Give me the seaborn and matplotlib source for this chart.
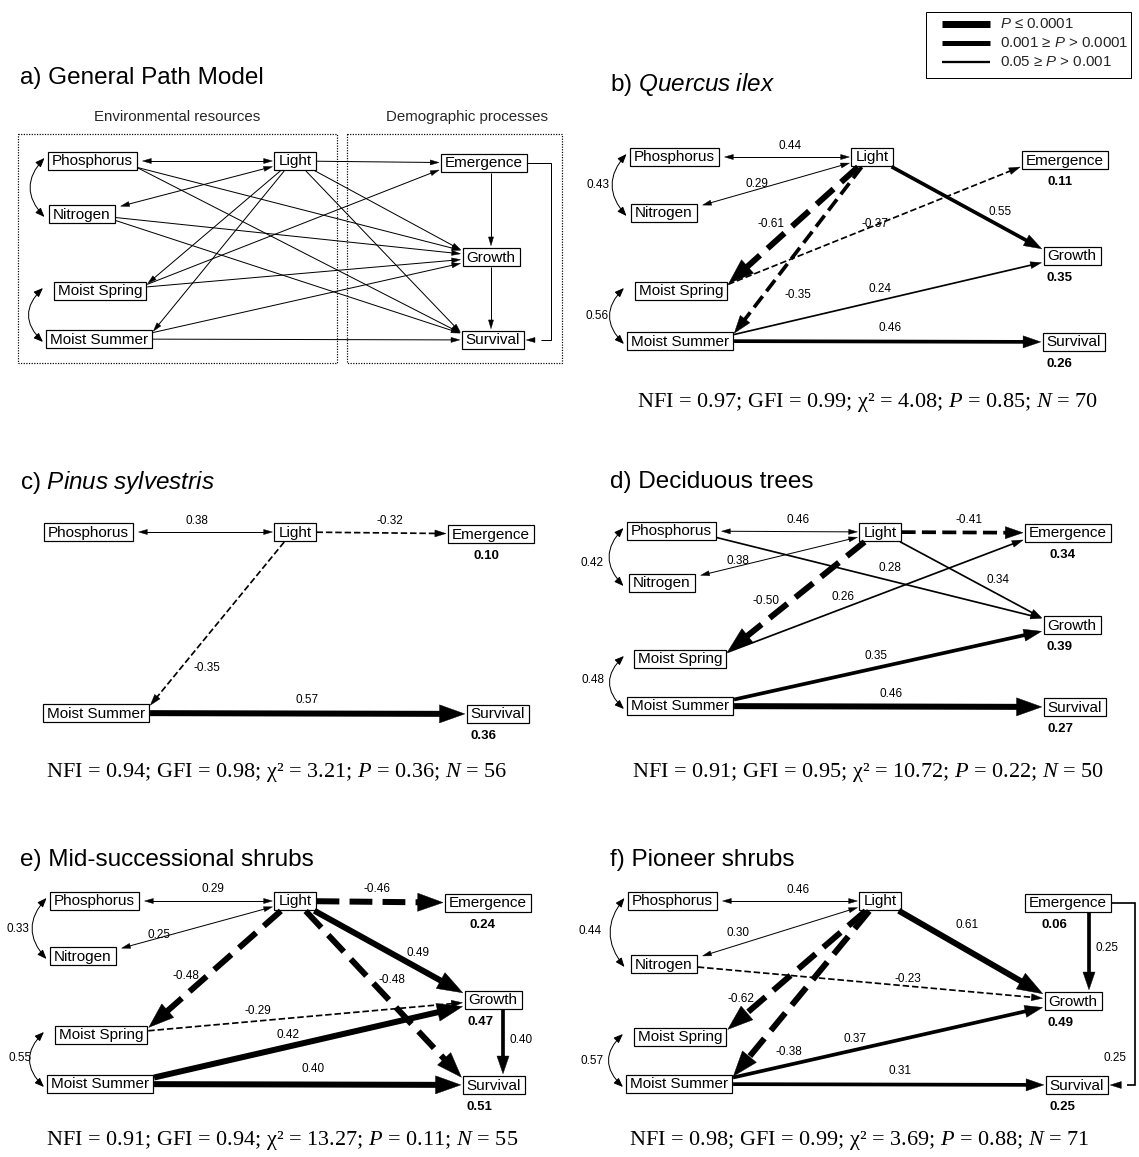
import numpy as np
import matplotlib
matplotlib.use("Agg")
import matplotlib.pyplot as plt
from matplotlib.patches import Rectangle, FancyArrowPatch, Polygon, ArrowStyle
import seaborn as sns

# ======================= DATA =======================
# significance classes: 3 = P <= 0.0001, 2 = 0.001 >= P > 0.0001, 1 = 0.05 >= P > 0.001

GENERAL_CORR = [("Phosphorus", "Light"), ("Nitrogen", "Light"),
                ("Phosphorus", "Nitrogen"), ("Moist Spring", "Moist Summer")]
GENERAL_PATHS = [("Light", "Emergence"), ("Light", "Growth"), ("Light", "Survival"),
                 ("Light", "Moist Spring"), ("Light", "Moist Summer"),
                 ("Phosphorus", "Growth"), ("Phosphorus", "Survival"),
                 ("Nitrogen", "Growth"), ("Nitrogen", "Survival"),
                 ("Moist Spring", "Emergence"), ("Moist Spring", "Growth"),
                 ("Moist Summer", "Growth"), ("Moist Summer", "Survival"),
                 ("Emergence", "Growth"), ("Growth", "Survival"),
                 ("Emergence", "Survival")]

QUERCUS_CORR = [("Phosphorus", "Light", 0.44), ("Nitrogen", "Light", 0.29),
                ("Phosphorus", "Nitrogen", 0.43), ("Moist Spring", "Moist Summer", 0.56)]
QUERCUS_PATHS = [("Light", "Moist Spring", -0.61, 3), ("Light", "Moist Summer", -0.35, 2),
                 ("Light", "Growth", 0.55, 2), ("Moist Spring", "Emergence", -0.37, 1),
                 ("Moist Summer", "Growth", 0.24, 1), ("Moist Summer", "Survival", 0.46, 2)]
QUERCUS_R2 = {"Emergence": 0.11, "Growth": 0.35, "Survival": 0.26}
QUERCUS_FIT = {"NFI": 0.97, "GFI": 0.99, "chi2": 4.08, "P": 0.85, "N": 70}

PINUS_CORR = [("Phosphorus", "Light", 0.38)]
PINUS_PATHS = [("Light", "Emergence", -0.32, 1), ("Light", "Moist Summer", -0.35, 1),
               ("Moist Summer", "Survival", 0.57, 3)]
PINUS_R2 = {"Emergence": 0.10, "Survival": 0.36}
PINUS_FIT = {"NFI": 0.94, "GFI": 0.98, "chi2": 3.21, "P": 0.36, "N": 56}

DECID_CORR = [("Phosphorus", "Light", 0.46), ("Nitrogen", "Light", 0.38),
              ("Phosphorus", "Nitrogen", 0.42), ("Moist Spring", "Moist Summer", 0.48)]
DECID_PATHS = [("Light", "Emergence", -0.41, 2), ("Phosphorus", "Growth", 0.28, 1),
               ("Light", "Growth", 0.34, 1), ("Light", "Moist Spring", -0.50, 3),
               ("Moist Spring", "Emergence", 0.26, 1), ("Moist Summer", "Growth", 0.35, 2),
               ("Moist Summer", "Survival", 0.46, 3)]
DECID_R2 = {"Emergence": 0.34, "Growth": 0.39, "Survival": 0.27}
DECID_FIT = {"NFI": 0.91, "GFI": 0.95, "chi2": 10.72, "P": 0.22, "N": 50}

MIDSHRUB_CORR = [("Phosphorus", "Light", 0.29), ("Nitrogen", "Light", 0.25),
                 ("Phosphorus", "Nitrogen", 0.33), ("Moist Spring", "Moist Summer", 0.55)]
MIDSHRUB_PATHS = [("Light", "Emergence", -0.46, 3), ("Light", "Growth", 0.49, 3),
                  ("Light", "Moist Spring", -0.48, 3), ("Light", "Survival", -0.48, 3),
                  ("Moist Spring", "Growth", -0.29, 1), ("Moist Summer", "Growth", 0.42, 3),
                  ("Moist Summer", "Survival", 0.40, 3), ("Growth", "Survival", 0.40, 2)]
MIDSHRUB_R2 = {"Emergence": 0.24, "Growth": 0.47, "Survival": 0.51}
MIDSHRUB_FIT = {"NFI": 0.91, "GFI": 0.94, "chi2": 13.27, "P": 0.11, "N": 55}

PIONEER_CORR = [("Phosphorus", "Light", 0.46), ("Nitrogen", "Light", 0.30),
                ("Phosphorus", "Nitrogen", 0.44), ("Moist Spring", "Moist Summer", 0.57)]
PIONEER_PATHS = [("Light", "Growth", 0.61, 3), ("Emergence", "Growth", 0.25, 2),
                 ("Nitrogen", "Growth", -0.23, 1), ("Light", "Moist Spring", -0.62, 3),
                 ("Light", "Moist Summer", -0.38, 3), ("Moist Summer", "Growth", 0.37, 2),
                 ("Moist Summer", "Survival", 0.31, 2), ("Emergence", "Survival", 0.25, 1)]
PIONEER_R2 = {"Emergence": 0.06, "Growth": 0.49, "Survival": 0.25}
PIONEER_FIT = {"NFI": 0.98, "GFI": 0.99, "chi2": 3.69, "P": 0.88, "N": 71}

LEGEND_LABELS = [r"$\mathsf{P}$ ≤ 0.0001", r"0.001 ≥ $\mathsf{P}$ > 0.0001",
                 r"0.05 ≥ $\mathsf{P}$ > 0.001"]

# ======================= LAYOUT (pixels) =======================
W_PX = {0: 1.0, 1: 1.7, 2: 3.7, 3: 6.0}

LAYOUT = {
    "a": dict(title="a) General Path Model", title_xy=(20, 78),
              nodes={"Phosphorus": (92, 161), "Light": (295, 161), "Emergence": (484, 163),
                     "Nitrogen": (82, 214), "Growth": (491, 257), "Moist Spring": (100, 291),
                     "Moist Summer": (99, 339), "Survival": (493, 340)},
              vx=491, elbow_x=551),
    "b": dict(title=r"b) $\mathsf{Quercus\ ilex}$", title_xy=(610, 84),
              nodes={"Phosphorus": (674, 157), "Light": (872, 157), "Emergence": (1065, 160),
                     "Nitrogen": (664, 213), "Growth": (1072, 256), "Moist Spring": (681, 291),
                     "Moist Summer": (680, 341), "Survival": (1074, 342)},
              stats_xy=(868, 402),
              labels={("Phosphorus", "Light"): (790, 146), ("Nitrogen", "Light"): (757, 184),
                      ("Phosphorus", "Nitrogen"): (598, 185),
                      ("Moist Spring", "Moist Summer"): (597, 316),
                      ("Light", "Moist Spring"): (771, 224), ("Light", "Moist Summer"): (798, 295),
                      ("Light", "Growth"): (1000, 212), ("Moist Spring", "Emergence"): (875, 224),
                      ("Moist Summer", "Growth"): (880, 289),
                      ("Moist Summer", "Survival"): (890, 328)}),
    "c": dict(title=r"c) $\mathsf{Pinus\ sylvestris}$", title_xy=(20, 482),
              nodes={"Phosphorus": (88, 532), "Light": (295, 532), "Emergence": (491, 534),
                     "Moist Summer": (96, 713), "Survival": (498, 714)},
              stats_xy=(277, 773),
              labels={("Phosphorus", "Light"): (197, 521), ("Light", "Emergence"): (390, 521),
                      ("Light", "Moist Summer"): (207, 668),
                      ("Moist Summer", "Survival"): (307, 700)}),
    "d": dict(title="d) Deciduous trees", title_xy=(610, 482),
              nodes={"Phosphorus": (671, 531), "Light": (880, 532), "Emergence": (1068, 533),
                     "Nitrogen": (662, 583), "Growth": (1072, 625), "Moist Spring": (680, 659),
                     "Moist Summer": (680, 706), "Survival": (1075, 707)},
              stats_xy=(868, 773),
              labels={("Phosphorus", "Light"): (798, 520), ("Nitrogen", "Light"): (738, 561),
                      ("Phosphorus", "Nitrogen"): (592, 563),
                      ("Moist Spring", "Moist Summer"): (593, 680),
                      ("Light", "Emergence"): (969, 520), ("Phosphorus", "Growth"): (890, 568),
                      ("Light", "Growth"): (998, 580), ("Light", "Moist Spring"): (766, 601),
                      ("Moist Spring", "Emergence"): (843, 597),
                      ("Moist Summer", "Growth"): (876, 656),
                      ("Moist Summer", "Survival"): (891, 694)}),
    "e": dict(title="e) Mid-successional shrubs", title_xy=(20, 860),
              nodes={"Phosphorus": (94, 901), "Light": (295, 901), "Emergence": (488, 903),
                     "Nitrogen": (83, 956), "Growth": (493, 1000), "Moist Spring": (101, 1035),
                     "Moist Summer": (100, 1084), "Survival": (494, 1085)},
              stats_xy=(282, 1141), vx=503,
              labels={("Phosphorus", "Light"): (213, 889), ("Nitrogen", "Light"): (159, 935),
                      ("Phosphorus", "Nitrogen"): (18, 929),
                      ("Moist Spring", "Moist Summer"): (20, 1058),
                      ("Light", "Emergence"): (377, 889), ("Light", "Growth"): (418, 953),
                      ("Light", "Moist Spring"): (186, 976), ("Light", "Survival"): (392, 980),
                      ("Moist Spring", "Growth"): (258, 1011),
                      ("Moist Summer", "Growth"): (288, 1035),
                      ("Moist Summer", "Survival"): (313, 1069),
                      ("Growth", "Survival"): (521, 1040)}),
    "f": dict(title="f) Pioneer shrubs", title_xy=(610, 860),
              nodes={"Phosphorus": (672, 901), "Light": (880, 901), "Emergence": (1068, 903),
                     "Nitrogen": (664, 964), "Growth": (1073, 1001), "Moist Spring": (680, 1037),
                     "Moist Summer": (679, 1084), "Survival": (1077, 1085)},
              stats_xy=(859, 1141), vx=1089, elbow_x=1135, r2_dx={"Emergence": 17},
              labels={("Phosphorus", "Light"): (798, 890), ("Nitrogen", "Light"): (738, 933),
                      ("Phosphorus", "Nitrogen"): (590, 931),
                      ("Moist Spring", "Moist Summer"): (592, 1061),
                      ("Light", "Growth"): (967, 925), ("Emergence", "Growth"): (1107, 948),
                      ("Nitrogen", "Growth"): (908, 979), ("Light", "Moist Spring"): (741, 999),
                      ("Light", "Moist Summer"): (789, 1052),
                      ("Moist Summer", "Growth"): (855, 1039),
                      ("Moist Summer", "Survival"): (900, 1071),
                      ("Emergence", "Survival"): (1115, 1058)}),
}
R2_DX = {"Emergence": 25, "Growth": 3, "Survival": 4}

# ======================= DRAWING =======================
FIG_W, FIG_H = 1139, 1157
sns.set_theme(style="white")
plt.rcParams["font.family"] = ["Liberation Sans", "DejaVu Sans"]
plt.rcParams["mathtext.fontset"] = "custom"
plt.rcParams["mathtext.rm"] = "Liberation Serif"
plt.rcParams["mathtext.it"] = "Liberation Serif:italic"
plt.rcParams["mathtext.sf"] = "Liberation Sans:italic"

fig = plt.figure(figsize=(FIG_W / 100, FIG_H / 100), dpi=100)
ax = fig.add_axes([0, 0, 1, 1])
ax.set_xlim(0, FIG_W)
ax.set_ylim(FIG_H, 0)
ax.axis("off")
renderer = fig.canvas.get_renderer()
PT = 0.72  # points per pixel


def draw_node(name, c):
    t = ax.text(c[0], c[1] + 0.5, name, ha="center", va="center", fontsize=11, color="black")
    bb = t.get_window_extent(renderer)
    w, h = bb.width + 8, 18.5
    ax.add_patch(Rectangle((c[0] - w / 2, c[1] - h / 2), w, h, fill=False, ec="black", lw=1.2 * PT))
    return dict(cx=c[0], cy=c[1], hw=w / 2, hh=h / 2)


def side_port(b, toward):
    dx, dy = toward[0] - b["cx"], toward[1] - b["cy"]
    s = 1 if dx >= 0 else -1
    off = dy / max(abs(dx), 1e-6) * b["hw"]
    lim = b["hh"] - 3
    off = max(-lim, min(lim, off))
    return np.array([b["cx"] + s * b["hw"], b["cy"] + off])


def clip_port(b, toward):
    dx, dy = toward[0] - b["cx"], toward[1] - b["cy"]
    t = min(b["hw"] / abs(dx) if dx else np.inf, b["hh"] / abs(dy) if dy else np.inf)
    return np.array([b["cx"] + dx * t, b["cy"] + dy * t])


def head(tip, d, w):
    L, Wd = 5.5 + 3.3 * w, 2.5 + 2.6 * w
    perp = np.array([-d[1], d[0]])
    base = tip - d * L
    ax.add_patch(Polygon([tip, base + perp * Wd / 2, base - perp * Wd / 2], closed=True,
                         fc="black", ec="black", lw=0.3))
    return L


def arrow(p0, p1, w, dashed=False, start_head=False, gap0=2.0, gap1=2.0):
    p0, p1 = np.asarray(p0, float), np.asarray(p1, float)
    d = (p1 - p0) / np.linalg.norm(p1 - p0)
    p0 = p0 + d * gap0
    p1 = p1 - d * gap1
    L = head(p1, d, w)
    q1 = p1 - d * L * 0.85
    q0 = p0
    if start_head:
        L0 = head(p0, -d, w)
        q0 = p0 + d * L0 * 0.85
    ax.plot([q0[0], q1[0]], [q0[1], q1[1]], color="black", lw=w * PT,
            ls=(0, (3.8, 1.7)) if dashed else "-", solid_capstyle="butt", dash_capstyle="butt")


def curved(b1, b2, w):
    x = min(b1["cx"] - b1["hw"], b2["cx"] - b2["hw"]) - 3
    pa, pb = (x, b1["cy"] - 3), (x, b2["cy"] + 3)
    rad = 28.0 / abs(pb[1] - pa[1])
    ap = FancyArrowPatch(pa, pb, arrowstyle=ArrowStyle("<|-|>", head_length=5.5, head_width=2.2),
                         connectionstyle=f"arc3,rad={rad}", lw=w * PT, color="black",
                         mutation_scale=1, shrinkA=0, shrinkB=0)
    ax.add_patch(ap)


def endpoints(boxes, s, t, vx):
    bs, bt = boxes[s], boxes[t]
    if abs(bs["cx"] - bt["cx"]) < 40:  # vertical path
        x = vx
        down = bt["cy"] > bs["cy"]
        y0 = bs["cy"] + (bs["hh"] if down else -bs["hh"])
        y1 = bt["cy"] - (bt["hh"] if down else -bt["hh"])
        return np.array([x, y0]), np.array([x, y1])
    cs, ct = (bs["cx"], bs["cy"]), (bt["cx"], bt["cy"])
    p0 = clip_port(bs, ct) if s == "Light" else side_port(bs, ct)
    p1 = clip_port(bt, cs) if t == "Light" else side_port(bt, cs)
    return p0, p1


def elbow(boxes, s, t, xe, w):
    bs, bt = boxes[s], boxes[t]
    x0 = bs["cx"] + bs["hw"]
    x1 = bt["cx"] + bt["hw"]
    ax.plot([x0, xe, xe, x1 + 14 + 3 * w], [bs["cy"], bs["cy"], bt["cy"], bt["cy"]],
            color="black", lw=w * PT, solid_joinstyle="miter", solid_capstyle="butt")
    head(np.array([x1 + 2, bt["cy"]]), np.array([-1.0, 0.0]), w)


def label(xy, txt, size=8.5, **kw):
    ax.text(xy[0], xy[1], txt, ha="center", va="center", fontsize=size, color="black", **kw)


def is_left(name):
    return name in ("Phosphorus", "Nitrogen", "Moist Spring", "Moist Summer")


def draw_panel(key, corr, paths, r2=None, fit=None):
    lay = LAYOUT[key]
    ax.text(lay["title_xy"][0], lay["title_xy"][1], lay["title"], ha="left", va="center",
            fontsize=17.5, color="black")
    boxes = {n: draw_node(n, c) for n, c in lay["nodes"].items()}
    labs = lay.get("labels", {})
    vx = lay.get("vx", None)
    for item in corr:
        s, t = item[0], item[1]
        if is_left(s) and is_left(t):
            curved(boxes[s], boxes[t], 1.0)
        else:
            p0, p1 = endpoints(boxes, s, t, vx)
            arrow(p0, p1, 1.0, start_head=True, gap0=6, gap1=2)
        if len(item) > 2:
            label(labs[(s, t)], f"{item[2]:.2f}")
    for item in paths:
        s, t = item[0], item[1]
        coef = item[2] if len(item) > 2 else None
        w = W_PX[item[3]] if len(item) > 3 else W_PX[0]
        dashed = coef is not None and coef < 0
        if s == "Emergence" and t == "Survival":
            elbow(boxes, s, t, lay["elbow_x"], w)
        else:
            p0, p1 = endpoints(boxes, s, t, vx)
            arrow(p0, p1, w, dashed=dashed, gap0=1, gap1=2)
        if coef is not None:
            label(labs[(s, t)], f"{coef:.2f}")
    if r2:
        dxs = dict(R2_DX)
        dxs.update(lay.get("r2_dx", {}))
        for n, v in r2.items():
            b = boxes[n]
            ax.text(b["cx"] - b["hw"] + dxs[n], b["cy"] + b["hh"] + 12.5, f"{v:.2f}",
                    ha="left", va="center", fontsize=9.5, fontweight="bold", color="black")
    if fit:
        s = (f"NFI = {fit['NFI']:.2f}; GFI = {fit['GFI']:.2f}; χ² = {fit['chi2']:.2f}; "
             f"$P$ = {fit['P']:.2f}; $N$ = {fit['N']}")
        ax.text(lay["stats_xy"][0], lay["stats_xy"][1], s, ha="center", va="center",
                fontsize=16, family=["Liberation Serif", "DejaVu Serif"], color="black")


# panel a extras: group boxes and headers
ax.add_patch(Rectangle((18, 134), 319, 229, fill=False, ec="black", lw=1.2 * PT, ls=(0, (1, 1.2))))
ax.add_patch(Rectangle((347, 134), 215, 229, fill=False, ec="black", lw=1.2 * PT, ls=(0, (1, 1.2))))
ax.text(177, 117, "Environmental resources", ha="center", va="center", fontsize=10.8)
ax.text(467, 117, "Demographic processes", ha="center", va="center", fontsize=10.8)

draw_panel("a", GENERAL_CORR, GENERAL_PATHS)
draw_panel("b", QUERCUS_CORR, QUERCUS_PATHS, QUERCUS_R2, QUERCUS_FIT)
draw_panel("c", PINUS_CORR, PINUS_PATHS, PINUS_R2, PINUS_FIT)
draw_panel("d", DECID_CORR, DECID_PATHS, DECID_R2, DECID_FIT)
draw_panel("e", MIDSHRUB_CORR, MIDSHRUB_PATHS, MIDSHRUB_R2, MIDSHRUB_FIT)
draw_panel("f", PIONEER_CORR, PIONEER_PATHS, PIONEER_R2, PIONEER_FIT)

# legend
ax.add_patch(Rectangle((926, 12), 205, 66, fill=False, ec="black", lw=1.0 * PT))
for i, (lev, w_leg) in enumerate(zip([3, 2, 1], [7.0, 5.0, 2.3])):
    y = 24 + 19 * i
    ax.plot([942, 990], [y, y], color="black", lw=w_leg * PT, solid_capstyle="butt")
    ax.text(1000, y, LEGEND_LABELS[i], ha="left", va="center", fontsize=10.8)

fig.savefig("out.png", dpi=100, facecolor="white")
